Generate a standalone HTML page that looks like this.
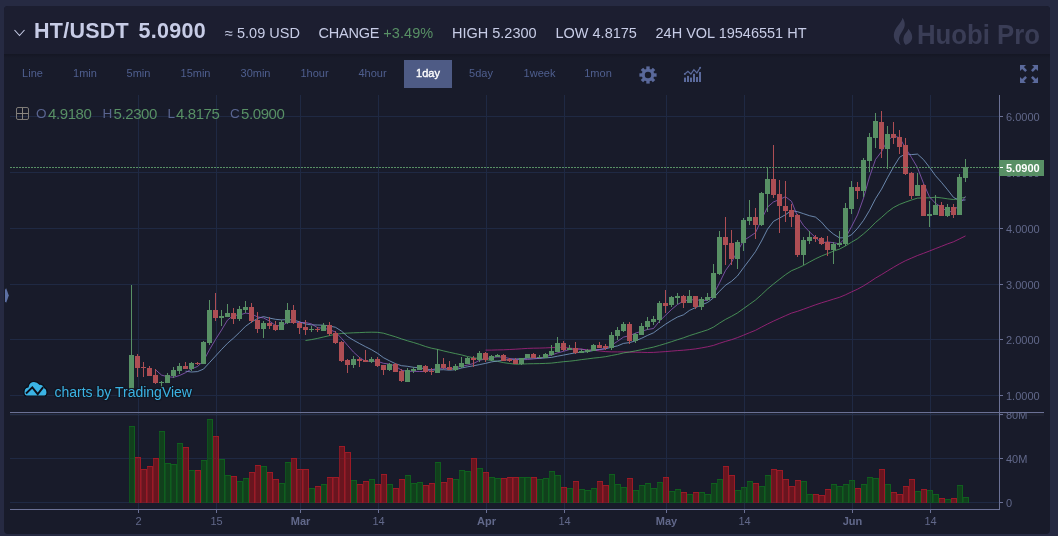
<!DOCTYPE html>
<html><head><meta charset="utf-8"><title>HT/USDT</title>
<style>
html,body{margin:0;padding:0;}
body{width:1058px;height:536px;background:#262a42;overflow:hidden;position:relative;font-family:"Liberation Sans",sans-serif;}
.panel{position:absolute;left:4px;top:6px;width:1046px;height:528px;background:#181b2a;border-radius:4px;}
.head{position:absolute;left:4px;top:6px;width:1046px;height:48px;background:#1c1e30;border-radius:4px 4px 0 0;}
.abs{position:absolute;white-space:nowrap;}
.h1{font-weight:bold;font-size:21.5px;color:#c7cce6;top:19px;line-height:24px;}
.h2{font-size:14.5px;color:#c7cce6;top:24px;line-height:18px;}
.tb{position:absolute;top:65px;width:60px;text-align:center;font-size:11px;color:#4f5f8f;line-height:16px;white-space:nowrap;}
.ax{position:absolute;font-size:11px;color:#61688a;line-height:14px;white-space:nowrap;}
.tx{width:61px;text-align:center;}
.lg{position:absolute;top:104.5px;font-size:15px;line-height:18px;white-space:nowrap;letter-spacing:-0.4px;}
svg{position:absolute;left:0;top:0;}
</style></head><body>
<div id="wrap" style="position:absolute;left:0;top:0;width:1058px;height:536px;will-change:transform;">
<div class="panel"></div>
<div class="head"></div>
<div class="abs" style="left:4px;top:54px;width:1046px;height:4px;background:linear-gradient(rgba(0,0,0,0.16),rgba(0,0,0,0));"></div>
<svg width="1058" height="536" viewBox="0 0 1058 536" shape-rendering="crispEdges">
<rect x="10" y="116" width="989" height="1" fill="#1f2943"/>
<rect x="10" y="172" width="989" height="1" fill="#1f2943"/>
<rect x="10" y="228" width="989" height="1" fill="#1f2943"/>
<rect x="10" y="284" width="989" height="1" fill="#1f2943"/>
<rect x="10" y="339" width="989" height="1" fill="#1f2943"/>
<rect x="10" y="395" width="989" height="1" fill="#1f2943"/>
<rect x="10" y="414" width="989" height="1" fill="#1f2943"/>
<rect x="10" y="458" width="989" height="1" fill="#1f2943"/>
<rect x="10" y="502" width="989" height="1" fill="#1f2943"/>
<rect x="138" y="95" width="1" height="317" fill="#1f2943"/>
<rect x="138" y="413" width="1" height="96" fill="#1f2943"/>
<rect x="216" y="95" width="1" height="317" fill="#1f2943"/>
<rect x="216" y="413" width="1" height="96" fill="#1f2943"/>
<rect x="300" y="95" width="1" height="317" fill="#1f2943"/>
<rect x="300" y="413" width="1" height="96" fill="#1f2943"/>
<rect x="378" y="95" width="1" height="317" fill="#1f2943"/>
<rect x="378" y="413" width="1" height="96" fill="#1f2943"/>
<rect x="486" y="95" width="1" height="317" fill="#1f2943"/>
<rect x="486" y="413" width="1" height="96" fill="#1f2943"/>
<rect x="564" y="95" width="1" height="317" fill="#1f2943"/>
<rect x="564" y="413" width="1" height="96" fill="#1f2943"/>
<rect x="666" y="95" width="1" height="317" fill="#1f2943"/>
<rect x="666" y="413" width="1" height="96" fill="#1f2943"/>
<rect x="744" y="95" width="1" height="317" fill="#1f2943"/>
<rect x="744" y="413" width="1" height="96" fill="#1f2943"/>
<rect x="852" y="95" width="1" height="317" fill="#1f2943"/>
<rect x="852" y="413" width="1" height="96" fill="#1f2943"/>
<rect x="930" y="95" width="1" height="317" fill="#1f2943"/>
<rect x="930" y="413" width="1" height="96" fill="#1f2943"/>
<rect x="129" y="426" width="6" height="77" fill="rgba(8,110,10,0.45)"/>
<rect x="129" y="426" width="1" height="77" fill="#10501f"/>
<rect x="134" y="426" width="1" height="77" fill="#0f5f1e"/>
<rect x="129" y="426" width="6" height="1" fill="#0f5f1e"/>
<rect x="135" y="457" width="6" height="46" fill="rgba(200,16,20,0.46)"/>
<rect x="135" y="457" width="1" height="46" fill="#801a26"/>
<rect x="140" y="457" width="1" height="46" fill="#9c1a26"/>
<rect x="135" y="457" width="6" height="1" fill="#9c1a26"/>
<rect x="141" y="469" width="6" height="34" fill="rgba(200,16,20,0.46)"/>
<rect x="141" y="469" width="1" height="34" fill="#801a26"/>
<rect x="146" y="469" width="1" height="34" fill="#9c1a26"/>
<rect x="141" y="469" width="6" height="1" fill="#9c1a26"/>
<rect x="147" y="466" width="6" height="37" fill="rgba(200,16,20,0.46)"/>
<rect x="147" y="466" width="1" height="37" fill="#801a26"/>
<rect x="152" y="466" width="1" height="37" fill="#9c1a26"/>
<rect x="147" y="466" width="6" height="1" fill="#9c1a26"/>
<rect x="153" y="458" width="6" height="45" fill="rgba(200,16,20,0.46)"/>
<rect x="153" y="458" width="1" height="45" fill="#801a26"/>
<rect x="158" y="458" width="1" height="45" fill="#9c1a26"/>
<rect x="153" y="458" width="6" height="1" fill="#9c1a26"/>
<rect x="159" y="431" width="6" height="72" fill="rgba(8,110,10,0.45)"/>
<rect x="159" y="431" width="1" height="72" fill="#10501f"/>
<rect x="164" y="431" width="1" height="72" fill="#0f5f1e"/>
<rect x="159" y="431" width="6" height="1" fill="#0f5f1e"/>
<rect x="165" y="463" width="6" height="40" fill="rgba(8,110,10,0.45)"/>
<rect x="165" y="463" width="1" height="40" fill="#10501f"/>
<rect x="170" y="463" width="1" height="40" fill="#0f5f1e"/>
<rect x="165" y="463" width="6" height="1" fill="#0f5f1e"/>
<rect x="171" y="464" width="6" height="39" fill="rgba(8,110,10,0.45)"/>
<rect x="171" y="464" width="1" height="39" fill="#10501f"/>
<rect x="176" y="464" width="1" height="39" fill="#0f5f1e"/>
<rect x="171" y="464" width="6" height="1" fill="#0f5f1e"/>
<rect x="177" y="443" width="6" height="60" fill="rgba(8,110,10,0.45)"/>
<rect x="177" y="443" width="1" height="60" fill="#10501f"/>
<rect x="182" y="443" width="1" height="60" fill="#0f5f1e"/>
<rect x="177" y="443" width="6" height="1" fill="#0f5f1e"/>
<rect x="183" y="447" width="6" height="56" fill="rgba(200,16,20,0.46)"/>
<rect x="183" y="447" width="1" height="56" fill="#801a26"/>
<rect x="188" y="447" width="1" height="56" fill="#9c1a26"/>
<rect x="183" y="447" width="6" height="1" fill="#9c1a26"/>
<rect x="189" y="470" width="6" height="33" fill="rgba(8,110,10,0.45)"/>
<rect x="189" y="470" width="1" height="33" fill="#10501f"/>
<rect x="194" y="470" width="1" height="33" fill="#0f5f1e"/>
<rect x="189" y="470" width="6" height="1" fill="#0f5f1e"/>
<rect x="195" y="470" width="6" height="33" fill="rgba(200,16,20,0.46)"/>
<rect x="195" y="470" width="1" height="33" fill="#801a26"/>
<rect x="200" y="470" width="1" height="33" fill="#9c1a26"/>
<rect x="195" y="470" width="6" height="1" fill="#9c1a26"/>
<rect x="201" y="460" width="6" height="43" fill="rgba(8,110,10,0.45)"/>
<rect x="201" y="460" width="1" height="43" fill="#10501f"/>
<rect x="206" y="460" width="1" height="43" fill="#0f5f1e"/>
<rect x="201" y="460" width="6" height="1" fill="#0f5f1e"/>
<rect x="207" y="419" width="6" height="84" fill="rgba(8,110,10,0.45)"/>
<rect x="207" y="419" width="1" height="84" fill="#10501f"/>
<rect x="212" y="419" width="1" height="84" fill="#0f5f1e"/>
<rect x="207" y="419" width="6" height="1" fill="#0f5f1e"/>
<rect x="213" y="436" width="6" height="67" fill="rgba(200,16,20,0.46)"/>
<rect x="213" y="436" width="1" height="67" fill="#801a26"/>
<rect x="218" y="436" width="1" height="67" fill="#9c1a26"/>
<rect x="213" y="436" width="6" height="1" fill="#9c1a26"/>
<rect x="219" y="459" width="6" height="44" fill="rgba(8,110,10,0.45)"/>
<rect x="219" y="459" width="1" height="44" fill="#10501f"/>
<rect x="224" y="459" width="1" height="44" fill="#0f5f1e"/>
<rect x="219" y="459" width="6" height="1" fill="#0f5f1e"/>
<rect x="225" y="475" width="6" height="28" fill="rgba(8,110,10,0.45)"/>
<rect x="225" y="475" width="1" height="28" fill="#10501f"/>
<rect x="230" y="475" width="1" height="28" fill="#0f5f1e"/>
<rect x="225" y="475" width="6" height="1" fill="#0f5f1e"/>
<rect x="231" y="476" width="6" height="27" fill="rgba(200,16,20,0.46)"/>
<rect x="231" y="476" width="1" height="27" fill="#801a26"/>
<rect x="236" y="476" width="1" height="27" fill="#9c1a26"/>
<rect x="231" y="476" width="6" height="1" fill="#9c1a26"/>
<rect x="237" y="481" width="6" height="22" fill="rgba(8,110,10,0.45)"/>
<rect x="237" y="481" width="1" height="22" fill="#10501f"/>
<rect x="242" y="481" width="1" height="22" fill="#0f5f1e"/>
<rect x="237" y="481" width="6" height="1" fill="#0f5f1e"/>
<rect x="243" y="478" width="6" height="25" fill="rgba(8,110,10,0.45)"/>
<rect x="243" y="478" width="1" height="25" fill="#10501f"/>
<rect x="248" y="478" width="1" height="25" fill="#0f5f1e"/>
<rect x="243" y="478" width="6" height="1" fill="#0f5f1e"/>
<rect x="249" y="472" width="6" height="31" fill="rgba(200,16,20,0.46)"/>
<rect x="249" y="472" width="1" height="31" fill="#801a26"/>
<rect x="254" y="472" width="1" height="31" fill="#9c1a26"/>
<rect x="249" y="472" width="6" height="1" fill="#9c1a26"/>
<rect x="255" y="465" width="6" height="38" fill="rgba(200,16,20,0.46)"/>
<rect x="255" y="465" width="1" height="38" fill="#801a26"/>
<rect x="260" y="465" width="1" height="38" fill="#9c1a26"/>
<rect x="255" y="465" width="6" height="1" fill="#9c1a26"/>
<rect x="261" y="466" width="6" height="37" fill="rgba(8,110,10,0.45)"/>
<rect x="261" y="466" width="1" height="37" fill="#10501f"/>
<rect x="266" y="466" width="1" height="37" fill="#0f5f1e"/>
<rect x="261" y="466" width="6" height="1" fill="#0f5f1e"/>
<rect x="267" y="472" width="6" height="31" fill="rgba(200,16,20,0.46)"/>
<rect x="267" y="472" width="1" height="31" fill="#801a26"/>
<rect x="272" y="472" width="1" height="31" fill="#9c1a26"/>
<rect x="267" y="472" width="6" height="1" fill="#9c1a26"/>
<rect x="273" y="479" width="6" height="24" fill="rgba(200,16,20,0.46)"/>
<rect x="273" y="479" width="1" height="24" fill="#801a26"/>
<rect x="278" y="479" width="1" height="24" fill="#9c1a26"/>
<rect x="273" y="479" width="6" height="1" fill="#9c1a26"/>
<rect x="279" y="483" width="6" height="20" fill="rgba(8,110,10,0.45)"/>
<rect x="279" y="483" width="1" height="20" fill="#10501f"/>
<rect x="284" y="483" width="1" height="20" fill="#0f5f1e"/>
<rect x="279" y="483" width="6" height="1" fill="#0f5f1e"/>
<rect x="285" y="462" width="6" height="41" fill="rgba(8,110,10,0.45)"/>
<rect x="285" y="462" width="1" height="41" fill="#10501f"/>
<rect x="290" y="462" width="1" height="41" fill="#0f5f1e"/>
<rect x="285" y="462" width="6" height="1" fill="#0f5f1e"/>
<rect x="291" y="458" width="6" height="45" fill="rgba(200,16,20,0.46)"/>
<rect x="291" y="458" width="1" height="45" fill="#801a26"/>
<rect x="296" y="458" width="1" height="45" fill="#9c1a26"/>
<rect x="291" y="458" width="6" height="1" fill="#9c1a26"/>
<rect x="297" y="469" width="6" height="34" fill="rgba(200,16,20,0.46)"/>
<rect x="297" y="469" width="1" height="34" fill="#801a26"/>
<rect x="302" y="469" width="1" height="34" fill="#9c1a26"/>
<rect x="297" y="469" width="6" height="1" fill="#9c1a26"/>
<rect x="303" y="469" width="6" height="34" fill="rgba(200,16,20,0.46)"/>
<rect x="303" y="469" width="1" height="34" fill="#801a26"/>
<rect x="308" y="469" width="1" height="34" fill="#9c1a26"/>
<rect x="303" y="469" width="6" height="1" fill="#9c1a26"/>
<rect x="309" y="488" width="6" height="15" fill="rgba(8,110,10,0.45)"/>
<rect x="309" y="488" width="1" height="15" fill="#10501f"/>
<rect x="314" y="488" width="1" height="15" fill="#0f5f1e"/>
<rect x="309" y="488" width="6" height="1" fill="#0f5f1e"/>
<rect x="315" y="486" width="6" height="17" fill="rgba(200,16,20,0.46)"/>
<rect x="315" y="486" width="1" height="17" fill="#801a26"/>
<rect x="320" y="486" width="1" height="17" fill="#9c1a26"/>
<rect x="315" y="486" width="6" height="1" fill="#9c1a26"/>
<rect x="321" y="484" width="6" height="19" fill="rgba(8,110,10,0.45)"/>
<rect x="321" y="484" width="1" height="19" fill="#10501f"/>
<rect x="326" y="484" width="1" height="19" fill="#0f5f1e"/>
<rect x="321" y="484" width="6" height="1" fill="#0f5f1e"/>
<rect x="327" y="477" width="6" height="26" fill="rgba(200,16,20,0.46)"/>
<rect x="327" y="477" width="1" height="26" fill="#801a26"/>
<rect x="332" y="477" width="1" height="26" fill="#9c1a26"/>
<rect x="327" y="477" width="6" height="1" fill="#9c1a26"/>
<rect x="333" y="477" width="6" height="26" fill="rgba(200,16,20,0.46)"/>
<rect x="333" y="477" width="1" height="26" fill="#801a26"/>
<rect x="338" y="477" width="1" height="26" fill="#9c1a26"/>
<rect x="333" y="477" width="6" height="1" fill="#9c1a26"/>
<rect x="339" y="446" width="6" height="57" fill="rgba(200,16,20,0.46)"/>
<rect x="339" y="446" width="1" height="57" fill="#801a26"/>
<rect x="344" y="446" width="1" height="57" fill="#9c1a26"/>
<rect x="339" y="446" width="6" height="1" fill="#9c1a26"/>
<rect x="345" y="452" width="6" height="51" fill="rgba(200,16,20,0.46)"/>
<rect x="345" y="452" width="1" height="51" fill="#801a26"/>
<rect x="350" y="452" width="1" height="51" fill="#9c1a26"/>
<rect x="345" y="452" width="6" height="1" fill="#9c1a26"/>
<rect x="351" y="480" width="6" height="23" fill="rgba(8,110,10,0.45)"/>
<rect x="351" y="480" width="1" height="23" fill="#10501f"/>
<rect x="356" y="480" width="1" height="23" fill="#0f5f1e"/>
<rect x="351" y="480" width="6" height="1" fill="#0f5f1e"/>
<rect x="357" y="484" width="6" height="19" fill="rgba(200,16,20,0.46)"/>
<rect x="357" y="484" width="1" height="19" fill="#801a26"/>
<rect x="362" y="484" width="1" height="19" fill="#9c1a26"/>
<rect x="357" y="484" width="6" height="1" fill="#9c1a26"/>
<rect x="363" y="481" width="6" height="22" fill="rgba(200,16,20,0.46)"/>
<rect x="363" y="481" width="1" height="22" fill="#801a26"/>
<rect x="368" y="481" width="1" height="22" fill="#9c1a26"/>
<rect x="363" y="481" width="6" height="1" fill="#9c1a26"/>
<rect x="369" y="479" width="6" height="24" fill="rgba(8,110,10,0.45)"/>
<rect x="369" y="479" width="1" height="24" fill="#10501f"/>
<rect x="374" y="479" width="1" height="24" fill="#0f5f1e"/>
<rect x="369" y="479" width="6" height="1" fill="#0f5f1e"/>
<rect x="375" y="484" width="6" height="19" fill="rgba(200,16,20,0.46)"/>
<rect x="375" y="484" width="1" height="19" fill="#801a26"/>
<rect x="380" y="484" width="1" height="19" fill="#9c1a26"/>
<rect x="375" y="484" width="6" height="1" fill="#9c1a26"/>
<rect x="381" y="474" width="6" height="29" fill="rgba(200,16,20,0.46)"/>
<rect x="381" y="474" width="1" height="29" fill="#801a26"/>
<rect x="386" y="474" width="1" height="29" fill="#9c1a26"/>
<rect x="381" y="474" width="6" height="1" fill="#9c1a26"/>
<rect x="387" y="484" width="6" height="19" fill="rgba(8,110,10,0.45)"/>
<rect x="387" y="484" width="1" height="19" fill="#10501f"/>
<rect x="392" y="484" width="1" height="19" fill="#0f5f1e"/>
<rect x="387" y="484" width="6" height="1" fill="#0f5f1e"/>
<rect x="393" y="488" width="6" height="15" fill="rgba(200,16,20,0.46)"/>
<rect x="393" y="488" width="1" height="15" fill="#801a26"/>
<rect x="398" y="488" width="1" height="15" fill="#9c1a26"/>
<rect x="393" y="488" width="6" height="1" fill="#9c1a26"/>
<rect x="399" y="479" width="6" height="24" fill="rgba(200,16,20,0.46)"/>
<rect x="399" y="479" width="1" height="24" fill="#801a26"/>
<rect x="404" y="479" width="1" height="24" fill="#9c1a26"/>
<rect x="399" y="479" width="6" height="1" fill="#9c1a26"/>
<rect x="405" y="475" width="6" height="28" fill="rgba(8,110,10,0.45)"/>
<rect x="405" y="475" width="1" height="28" fill="#10501f"/>
<rect x="410" y="475" width="1" height="28" fill="#0f5f1e"/>
<rect x="405" y="475" width="6" height="1" fill="#0f5f1e"/>
<rect x="411" y="483" width="6" height="20" fill="rgba(8,110,10,0.45)"/>
<rect x="411" y="483" width="1" height="20" fill="#10501f"/>
<rect x="416" y="483" width="1" height="20" fill="#0f5f1e"/>
<rect x="411" y="483" width="6" height="1" fill="#0f5f1e"/>
<rect x="417" y="482" width="6" height="21" fill="rgba(8,110,10,0.45)"/>
<rect x="417" y="482" width="1" height="21" fill="#10501f"/>
<rect x="422" y="482" width="1" height="21" fill="#0f5f1e"/>
<rect x="417" y="482" width="6" height="1" fill="#0f5f1e"/>
<rect x="423" y="485" width="6" height="18" fill="rgba(200,16,20,0.46)"/>
<rect x="423" y="485" width="1" height="18" fill="#801a26"/>
<rect x="428" y="485" width="1" height="18" fill="#9c1a26"/>
<rect x="423" y="485" width="6" height="1" fill="#9c1a26"/>
<rect x="429" y="483" width="6" height="20" fill="rgba(200,16,20,0.46)"/>
<rect x="429" y="483" width="1" height="20" fill="#801a26"/>
<rect x="434" y="483" width="1" height="20" fill="#9c1a26"/>
<rect x="429" y="483" width="6" height="1" fill="#9c1a26"/>
<rect x="435" y="462" width="6" height="41" fill="rgba(8,110,10,0.45)"/>
<rect x="435" y="462" width="1" height="41" fill="#10501f"/>
<rect x="440" y="462" width="1" height="41" fill="#0f5f1e"/>
<rect x="435" y="462" width="6" height="1" fill="#0f5f1e"/>
<rect x="441" y="482" width="6" height="21" fill="rgba(200,16,20,0.46)"/>
<rect x="441" y="482" width="1" height="21" fill="#801a26"/>
<rect x="446" y="482" width="1" height="21" fill="#9c1a26"/>
<rect x="441" y="482" width="6" height="1" fill="#9c1a26"/>
<rect x="447" y="478" width="6" height="25" fill="rgba(200,16,20,0.46)"/>
<rect x="447" y="478" width="1" height="25" fill="#801a26"/>
<rect x="452" y="478" width="1" height="25" fill="#9c1a26"/>
<rect x="447" y="478" width="6" height="1" fill="#9c1a26"/>
<rect x="453" y="479" width="6" height="24" fill="rgba(8,110,10,0.45)"/>
<rect x="453" y="479" width="1" height="24" fill="#10501f"/>
<rect x="458" y="479" width="1" height="24" fill="#0f5f1e"/>
<rect x="453" y="479" width="6" height="1" fill="#0f5f1e"/>
<rect x="459" y="470" width="6" height="33" fill="rgba(8,110,10,0.45)"/>
<rect x="459" y="470" width="1" height="33" fill="#10501f"/>
<rect x="464" y="470" width="1" height="33" fill="#0f5f1e"/>
<rect x="459" y="470" width="6" height="1" fill="#0f5f1e"/>
<rect x="465" y="471" width="6" height="32" fill="rgba(8,110,10,0.45)"/>
<rect x="465" y="471" width="1" height="32" fill="#10501f"/>
<rect x="470" y="471" width="1" height="32" fill="#0f5f1e"/>
<rect x="465" y="471" width="6" height="1" fill="#0f5f1e"/>
<rect x="471" y="458" width="6" height="45" fill="rgba(200,16,20,0.46)"/>
<rect x="471" y="458" width="1" height="45" fill="#801a26"/>
<rect x="476" y="458" width="1" height="45" fill="#9c1a26"/>
<rect x="471" y="458" width="6" height="1" fill="#9c1a26"/>
<rect x="477" y="468" width="6" height="35" fill="rgba(8,110,10,0.45)"/>
<rect x="477" y="468" width="1" height="35" fill="#10501f"/>
<rect x="482" y="468" width="1" height="35" fill="#0f5f1e"/>
<rect x="477" y="468" width="6" height="1" fill="#0f5f1e"/>
<rect x="483" y="472" width="6" height="31" fill="rgba(200,16,20,0.46)"/>
<rect x="483" y="472" width="1" height="31" fill="#801a26"/>
<rect x="488" y="472" width="1" height="31" fill="#9c1a26"/>
<rect x="483" y="472" width="6" height="1" fill="#9c1a26"/>
<rect x="489" y="477" width="6" height="26" fill="rgba(8,110,10,0.45)"/>
<rect x="489" y="477" width="1" height="26" fill="#10501f"/>
<rect x="494" y="477" width="1" height="26" fill="#0f5f1e"/>
<rect x="489" y="477" width="6" height="1" fill="#0f5f1e"/>
<rect x="495" y="478" width="6" height="25" fill="rgba(8,110,10,0.45)"/>
<rect x="495" y="478" width="1" height="25" fill="#10501f"/>
<rect x="500" y="478" width="1" height="25" fill="#0f5f1e"/>
<rect x="495" y="478" width="6" height="1" fill="#0f5f1e"/>
<rect x="501" y="478" width="6" height="25" fill="rgba(200,16,20,0.46)"/>
<rect x="501" y="478" width="1" height="25" fill="#801a26"/>
<rect x="506" y="478" width="1" height="25" fill="#9c1a26"/>
<rect x="501" y="478" width="6" height="1" fill="#9c1a26"/>
<rect x="507" y="477" width="6" height="26" fill="rgba(200,16,20,0.46)"/>
<rect x="507" y="477" width="1" height="26" fill="#801a26"/>
<rect x="512" y="477" width="1" height="26" fill="#9c1a26"/>
<rect x="507" y="477" width="6" height="1" fill="#9c1a26"/>
<rect x="513" y="477" width="6" height="26" fill="rgba(200,16,20,0.46)"/>
<rect x="513" y="477" width="1" height="26" fill="#801a26"/>
<rect x="518" y="477" width="1" height="26" fill="#9c1a26"/>
<rect x="513" y="477" width="6" height="1" fill="#9c1a26"/>
<rect x="519" y="477" width="6" height="26" fill="rgba(8,110,10,0.45)"/>
<rect x="519" y="477" width="1" height="26" fill="#10501f"/>
<rect x="524" y="477" width="1" height="26" fill="#0f5f1e"/>
<rect x="519" y="477" width="6" height="1" fill="#0f5f1e"/>
<rect x="525" y="477" width="6" height="26" fill="rgba(8,110,10,0.45)"/>
<rect x="525" y="477" width="1" height="26" fill="#10501f"/>
<rect x="530" y="477" width="1" height="26" fill="#0f5f1e"/>
<rect x="525" y="477" width="6" height="1" fill="#0f5f1e"/>
<rect x="531" y="477" width="6" height="26" fill="rgba(200,16,20,0.46)"/>
<rect x="531" y="477" width="1" height="26" fill="#801a26"/>
<rect x="536" y="477" width="1" height="26" fill="#9c1a26"/>
<rect x="531" y="477" width="6" height="1" fill="#9c1a26"/>
<rect x="537" y="479" width="6" height="24" fill="rgba(8,110,10,0.45)"/>
<rect x="537" y="479" width="1" height="24" fill="#10501f"/>
<rect x="542" y="479" width="1" height="24" fill="#0f5f1e"/>
<rect x="537" y="479" width="6" height="1" fill="#0f5f1e"/>
<rect x="543" y="478" width="6" height="25" fill="rgba(8,110,10,0.45)"/>
<rect x="543" y="478" width="1" height="25" fill="#10501f"/>
<rect x="548" y="478" width="1" height="25" fill="#0f5f1e"/>
<rect x="543" y="478" width="6" height="1" fill="#0f5f1e"/>
<rect x="549" y="471" width="6" height="32" fill="rgba(8,110,10,0.45)"/>
<rect x="549" y="471" width="1" height="32" fill="#10501f"/>
<rect x="554" y="471" width="1" height="32" fill="#0f5f1e"/>
<rect x="549" y="471" width="6" height="1" fill="#0f5f1e"/>
<rect x="555" y="475" width="6" height="28" fill="rgba(8,110,10,0.45)"/>
<rect x="555" y="475" width="1" height="28" fill="#10501f"/>
<rect x="560" y="475" width="1" height="28" fill="#0f5f1e"/>
<rect x="555" y="475" width="6" height="1" fill="#0f5f1e"/>
<rect x="561" y="487" width="6" height="16" fill="rgba(200,16,20,0.46)"/>
<rect x="561" y="487" width="1" height="16" fill="#801a26"/>
<rect x="566" y="487" width="1" height="16" fill="#9c1a26"/>
<rect x="561" y="487" width="6" height="1" fill="#9c1a26"/>
<rect x="567" y="488" width="6" height="15" fill="rgba(8,110,10,0.45)"/>
<rect x="567" y="488" width="1" height="15" fill="#10501f"/>
<rect x="572" y="488" width="1" height="15" fill="#0f5f1e"/>
<rect x="567" y="488" width="6" height="1" fill="#0f5f1e"/>
<rect x="573" y="481" width="6" height="22" fill="rgba(200,16,20,0.46)"/>
<rect x="573" y="481" width="1" height="22" fill="#801a26"/>
<rect x="578" y="481" width="1" height="22" fill="#9c1a26"/>
<rect x="573" y="481" width="6" height="1" fill="#9c1a26"/>
<rect x="579" y="489" width="6" height="14" fill="rgba(8,110,10,0.45)"/>
<rect x="579" y="489" width="1" height="14" fill="#10501f"/>
<rect x="584" y="489" width="1" height="14" fill="#0f5f1e"/>
<rect x="579" y="489" width="6" height="1" fill="#0f5f1e"/>
<rect x="585" y="490" width="6" height="13" fill="rgba(8,110,10,0.45)"/>
<rect x="585" y="490" width="1" height="13" fill="#10501f"/>
<rect x="590" y="490" width="1" height="13" fill="#0f5f1e"/>
<rect x="585" y="490" width="6" height="1" fill="#0f5f1e"/>
<rect x="591" y="488" width="6" height="15" fill="rgba(8,110,10,0.45)"/>
<rect x="591" y="488" width="1" height="15" fill="#10501f"/>
<rect x="596" y="488" width="1" height="15" fill="#0f5f1e"/>
<rect x="591" y="488" width="6" height="1" fill="#0f5f1e"/>
<rect x="597" y="481" width="6" height="22" fill="rgba(200,16,20,0.46)"/>
<rect x="597" y="481" width="1" height="22" fill="#801a26"/>
<rect x="602" y="481" width="1" height="22" fill="#9c1a26"/>
<rect x="597" y="481" width="6" height="1" fill="#9c1a26"/>
<rect x="603" y="485" width="6" height="18" fill="rgba(200,16,20,0.46)"/>
<rect x="603" y="485" width="1" height="18" fill="#801a26"/>
<rect x="608" y="485" width="1" height="18" fill="#9c1a26"/>
<rect x="603" y="485" width="6" height="1" fill="#9c1a26"/>
<rect x="609" y="474" width="6" height="29" fill="rgba(8,110,10,0.45)"/>
<rect x="609" y="474" width="1" height="29" fill="#10501f"/>
<rect x="614" y="474" width="1" height="29" fill="#0f5f1e"/>
<rect x="609" y="474" width="6" height="1" fill="#0f5f1e"/>
<rect x="615" y="484" width="6" height="19" fill="rgba(8,110,10,0.45)"/>
<rect x="615" y="484" width="1" height="19" fill="#10501f"/>
<rect x="620" y="484" width="1" height="19" fill="#0f5f1e"/>
<rect x="615" y="484" width="6" height="1" fill="#0f5f1e"/>
<rect x="621" y="487" width="6" height="16" fill="rgba(8,110,10,0.45)"/>
<rect x="621" y="487" width="1" height="16" fill="#10501f"/>
<rect x="626" y="487" width="1" height="16" fill="#0f5f1e"/>
<rect x="621" y="487" width="6" height="1" fill="#0f5f1e"/>
<rect x="627" y="478" width="6" height="25" fill="rgba(200,16,20,0.46)"/>
<rect x="627" y="478" width="1" height="25" fill="#801a26"/>
<rect x="632" y="478" width="1" height="25" fill="#9c1a26"/>
<rect x="627" y="478" width="6" height="1" fill="#9c1a26"/>
<rect x="633" y="490" width="6" height="13" fill="rgba(8,110,10,0.45)"/>
<rect x="633" y="490" width="1" height="13" fill="#10501f"/>
<rect x="638" y="490" width="1" height="13" fill="#0f5f1e"/>
<rect x="633" y="490" width="6" height="1" fill="#0f5f1e"/>
<rect x="639" y="485" width="6" height="18" fill="rgba(8,110,10,0.45)"/>
<rect x="639" y="485" width="1" height="18" fill="#10501f"/>
<rect x="644" y="485" width="1" height="18" fill="#0f5f1e"/>
<rect x="639" y="485" width="6" height="1" fill="#0f5f1e"/>
<rect x="645" y="483" width="6" height="20" fill="rgba(8,110,10,0.45)"/>
<rect x="645" y="483" width="1" height="20" fill="#10501f"/>
<rect x="650" y="483" width="1" height="20" fill="#0f5f1e"/>
<rect x="645" y="483" width="6" height="1" fill="#0f5f1e"/>
<rect x="651" y="488" width="6" height="15" fill="rgba(8,110,10,0.45)"/>
<rect x="651" y="488" width="1" height="15" fill="#10501f"/>
<rect x="656" y="488" width="1" height="15" fill="#0f5f1e"/>
<rect x="651" y="488" width="6" height="1" fill="#0f5f1e"/>
<rect x="657" y="482" width="6" height="21" fill="rgba(8,110,10,0.45)"/>
<rect x="657" y="482" width="1" height="21" fill="#10501f"/>
<rect x="662" y="482" width="1" height="21" fill="#0f5f1e"/>
<rect x="657" y="482" width="6" height="1" fill="#0f5f1e"/>
<rect x="663" y="477" width="6" height="26" fill="rgba(200,16,20,0.46)"/>
<rect x="663" y="477" width="1" height="26" fill="#801a26"/>
<rect x="668" y="477" width="1" height="26" fill="#9c1a26"/>
<rect x="663" y="477" width="6" height="1" fill="#9c1a26"/>
<rect x="669" y="491" width="6" height="12" fill="rgba(8,110,10,0.45)"/>
<rect x="669" y="491" width="1" height="12" fill="#10501f"/>
<rect x="674" y="491" width="1" height="12" fill="#0f5f1e"/>
<rect x="669" y="491" width="6" height="1" fill="#0f5f1e"/>
<rect x="675" y="489" width="6" height="14" fill="rgba(8,110,10,0.45)"/>
<rect x="675" y="489" width="1" height="14" fill="#10501f"/>
<rect x="680" y="489" width="1" height="14" fill="#0f5f1e"/>
<rect x="675" y="489" width="6" height="1" fill="#0f5f1e"/>
<rect x="681" y="492" width="6" height="11" fill="rgba(200,16,20,0.46)"/>
<rect x="681" y="492" width="1" height="11" fill="#801a26"/>
<rect x="686" y="492" width="1" height="11" fill="#9c1a26"/>
<rect x="681" y="492" width="6" height="1" fill="#9c1a26"/>
<rect x="687" y="494" width="6" height="9" fill="rgba(8,110,10,0.45)"/>
<rect x="687" y="494" width="1" height="9" fill="#10501f"/>
<rect x="692" y="494" width="1" height="9" fill="#0f5f1e"/>
<rect x="687" y="494" width="6" height="1" fill="#0f5f1e"/>
<rect x="693" y="492" width="6" height="11" fill="rgba(200,16,20,0.46)"/>
<rect x="693" y="492" width="1" height="11" fill="#801a26"/>
<rect x="698" y="492" width="1" height="11" fill="#9c1a26"/>
<rect x="693" y="492" width="6" height="1" fill="#9c1a26"/>
<rect x="699" y="492" width="6" height="11" fill="rgba(8,110,10,0.45)"/>
<rect x="699" y="492" width="1" height="11" fill="#10501f"/>
<rect x="704" y="492" width="1" height="11" fill="#0f5f1e"/>
<rect x="699" y="492" width="6" height="1" fill="#0f5f1e"/>
<rect x="705" y="494" width="6" height="9" fill="rgba(8,110,10,0.45)"/>
<rect x="705" y="494" width="1" height="9" fill="#10501f"/>
<rect x="710" y="494" width="1" height="9" fill="#0f5f1e"/>
<rect x="705" y="494" width="6" height="1" fill="#0f5f1e"/>
<rect x="711" y="483" width="6" height="20" fill="rgba(8,110,10,0.45)"/>
<rect x="711" y="483" width="1" height="20" fill="#10501f"/>
<rect x="716" y="483" width="1" height="20" fill="#0f5f1e"/>
<rect x="711" y="483" width="6" height="1" fill="#0f5f1e"/>
<rect x="717" y="479" width="6" height="24" fill="rgba(8,110,10,0.45)"/>
<rect x="717" y="479" width="1" height="24" fill="#10501f"/>
<rect x="722" y="479" width="1" height="24" fill="#0f5f1e"/>
<rect x="717" y="479" width="6" height="1" fill="#0f5f1e"/>
<rect x="723" y="466" width="6" height="37" fill="rgba(200,16,20,0.46)"/>
<rect x="723" y="466" width="1" height="37" fill="#801a26"/>
<rect x="728" y="466" width="1" height="37" fill="#9c1a26"/>
<rect x="723" y="466" width="6" height="1" fill="#9c1a26"/>
<rect x="729" y="475" width="6" height="28" fill="rgba(200,16,20,0.46)"/>
<rect x="729" y="475" width="1" height="28" fill="#801a26"/>
<rect x="734" y="475" width="1" height="28" fill="#9c1a26"/>
<rect x="729" y="475" width="6" height="1" fill="#9c1a26"/>
<rect x="735" y="490" width="6" height="13" fill="rgba(8,110,10,0.45)"/>
<rect x="735" y="490" width="1" height="13" fill="#10501f"/>
<rect x="740" y="490" width="1" height="13" fill="#0f5f1e"/>
<rect x="735" y="490" width="6" height="1" fill="#0f5f1e"/>
<rect x="741" y="487" width="6" height="16" fill="rgba(8,110,10,0.45)"/>
<rect x="741" y="487" width="1" height="16" fill="#10501f"/>
<rect x="746" y="487" width="1" height="16" fill="#0f5f1e"/>
<rect x="741" y="487" width="6" height="1" fill="#0f5f1e"/>
<rect x="747" y="481" width="6" height="22" fill="rgba(8,110,10,0.45)"/>
<rect x="747" y="481" width="1" height="22" fill="#10501f"/>
<rect x="752" y="481" width="1" height="22" fill="#0f5f1e"/>
<rect x="747" y="481" width="6" height="1" fill="#0f5f1e"/>
<rect x="753" y="483" width="6" height="20" fill="rgba(200,16,20,0.46)"/>
<rect x="753" y="483" width="1" height="20" fill="#801a26"/>
<rect x="758" y="483" width="1" height="20" fill="#9c1a26"/>
<rect x="753" y="483" width="6" height="1" fill="#9c1a26"/>
<rect x="759" y="486" width="6" height="17" fill="rgba(8,110,10,0.45)"/>
<rect x="759" y="486" width="1" height="17" fill="#10501f"/>
<rect x="764" y="486" width="1" height="17" fill="#0f5f1e"/>
<rect x="759" y="486" width="6" height="1" fill="#0f5f1e"/>
<rect x="765" y="475" width="6" height="28" fill="rgba(8,110,10,0.45)"/>
<rect x="765" y="475" width="1" height="28" fill="#10501f"/>
<rect x="770" y="475" width="1" height="28" fill="#0f5f1e"/>
<rect x="765" y="475" width="6" height="1" fill="#0f5f1e"/>
<rect x="771" y="469" width="6" height="34" fill="rgba(200,16,20,0.46)"/>
<rect x="771" y="469" width="1" height="34" fill="#801a26"/>
<rect x="776" y="469" width="1" height="34" fill="#9c1a26"/>
<rect x="771" y="469" width="6" height="1" fill="#9c1a26"/>
<rect x="777" y="470" width="6" height="33" fill="rgba(200,16,20,0.46)"/>
<rect x="777" y="470" width="1" height="33" fill="#801a26"/>
<rect x="782" y="470" width="1" height="33" fill="#9c1a26"/>
<rect x="777" y="470" width="6" height="1" fill="#9c1a26"/>
<rect x="783" y="479" width="6" height="24" fill="rgba(200,16,20,0.46)"/>
<rect x="783" y="479" width="1" height="24" fill="#801a26"/>
<rect x="788" y="479" width="1" height="24" fill="#9c1a26"/>
<rect x="783" y="479" width="6" height="1" fill="#9c1a26"/>
<rect x="789" y="486" width="6" height="17" fill="rgba(200,16,20,0.46)"/>
<rect x="789" y="486" width="1" height="17" fill="#801a26"/>
<rect x="794" y="486" width="1" height="17" fill="#9c1a26"/>
<rect x="789" y="486" width="6" height="1" fill="#9c1a26"/>
<rect x="795" y="480" width="6" height="23" fill="rgba(200,16,20,0.46)"/>
<rect x="795" y="480" width="1" height="23" fill="#801a26"/>
<rect x="800" y="480" width="1" height="23" fill="#9c1a26"/>
<rect x="795" y="480" width="6" height="1" fill="#9c1a26"/>
<rect x="801" y="481" width="6" height="22" fill="rgba(8,110,10,0.45)"/>
<rect x="801" y="481" width="1" height="22" fill="#10501f"/>
<rect x="806" y="481" width="1" height="22" fill="#0f5f1e"/>
<rect x="801" y="481" width="6" height="1" fill="#0f5f1e"/>
<rect x="807" y="494" width="6" height="9" fill="rgba(8,110,10,0.45)"/>
<rect x="807" y="494" width="1" height="9" fill="#10501f"/>
<rect x="812" y="494" width="1" height="9" fill="#0f5f1e"/>
<rect x="807" y="494" width="6" height="1" fill="#0f5f1e"/>
<rect x="813" y="494" width="6" height="9" fill="rgba(200,16,20,0.46)"/>
<rect x="813" y="494" width="1" height="9" fill="#801a26"/>
<rect x="818" y="494" width="1" height="9" fill="#9c1a26"/>
<rect x="813" y="494" width="6" height="1" fill="#9c1a26"/>
<rect x="819" y="495" width="6" height="8" fill="rgba(200,16,20,0.46)"/>
<rect x="819" y="495" width="1" height="8" fill="#801a26"/>
<rect x="824" y="495" width="1" height="8" fill="#9c1a26"/>
<rect x="819" y="495" width="6" height="1" fill="#9c1a26"/>
<rect x="825" y="489" width="6" height="14" fill="rgba(200,16,20,0.46)"/>
<rect x="825" y="489" width="1" height="14" fill="#801a26"/>
<rect x="830" y="489" width="1" height="14" fill="#9c1a26"/>
<rect x="825" y="489" width="6" height="1" fill="#9c1a26"/>
<rect x="831" y="484" width="6" height="19" fill="rgba(8,110,10,0.45)"/>
<rect x="831" y="484" width="1" height="19" fill="#10501f"/>
<rect x="836" y="484" width="1" height="19" fill="#0f5f1e"/>
<rect x="831" y="484" width="6" height="1" fill="#0f5f1e"/>
<rect x="837" y="486" width="6" height="17" fill="rgba(8,110,10,0.45)"/>
<rect x="837" y="486" width="1" height="17" fill="#10501f"/>
<rect x="842" y="486" width="1" height="17" fill="#0f5f1e"/>
<rect x="837" y="486" width="6" height="1" fill="#0f5f1e"/>
<rect x="843" y="484" width="6" height="19" fill="rgba(8,110,10,0.45)"/>
<rect x="843" y="484" width="1" height="19" fill="#10501f"/>
<rect x="848" y="484" width="1" height="19" fill="#0f5f1e"/>
<rect x="843" y="484" width="6" height="1" fill="#0f5f1e"/>
<rect x="849" y="480" width="6" height="23" fill="rgba(8,110,10,0.45)"/>
<rect x="849" y="480" width="1" height="23" fill="#10501f"/>
<rect x="854" y="480" width="1" height="23" fill="#0f5f1e"/>
<rect x="849" y="480" width="6" height="1" fill="#0f5f1e"/>
<rect x="855" y="488" width="6" height="15" fill="rgba(200,16,20,0.46)"/>
<rect x="855" y="488" width="1" height="15" fill="#801a26"/>
<rect x="860" y="488" width="1" height="15" fill="#9c1a26"/>
<rect x="855" y="488" width="6" height="1" fill="#9c1a26"/>
<rect x="861" y="484" width="6" height="19" fill="rgba(8,110,10,0.45)"/>
<rect x="861" y="484" width="1" height="19" fill="#10501f"/>
<rect x="866" y="484" width="1" height="19" fill="#0f5f1e"/>
<rect x="861" y="484" width="6" height="1" fill="#0f5f1e"/>
<rect x="867" y="477" width="6" height="26" fill="rgba(8,110,10,0.45)"/>
<rect x="867" y="477" width="1" height="26" fill="#10501f"/>
<rect x="872" y="477" width="1" height="26" fill="#0f5f1e"/>
<rect x="867" y="477" width="6" height="1" fill="#0f5f1e"/>
<rect x="873" y="478" width="6" height="25" fill="rgba(8,110,10,0.45)"/>
<rect x="873" y="478" width="1" height="25" fill="#10501f"/>
<rect x="878" y="478" width="1" height="25" fill="#0f5f1e"/>
<rect x="873" y="478" width="6" height="1" fill="#0f5f1e"/>
<rect x="879" y="469" width="6" height="34" fill="rgba(200,16,20,0.46)"/>
<rect x="879" y="469" width="1" height="34" fill="#801a26"/>
<rect x="884" y="469" width="1" height="34" fill="#9c1a26"/>
<rect x="879" y="469" width="6" height="1" fill="#9c1a26"/>
<rect x="885" y="484" width="6" height="19" fill="rgba(8,110,10,0.45)"/>
<rect x="885" y="484" width="1" height="19" fill="#10501f"/>
<rect x="890" y="484" width="1" height="19" fill="#0f5f1e"/>
<rect x="885" y="484" width="6" height="1" fill="#0f5f1e"/>
<rect x="891" y="492" width="6" height="11" fill="rgba(200,16,20,0.46)"/>
<rect x="891" y="492" width="1" height="11" fill="#801a26"/>
<rect x="896" y="492" width="1" height="11" fill="#9c1a26"/>
<rect x="891" y="492" width="6" height="1" fill="#9c1a26"/>
<rect x="897" y="494" width="6" height="9" fill="rgba(200,16,20,0.46)"/>
<rect x="897" y="494" width="1" height="9" fill="#801a26"/>
<rect x="902" y="494" width="1" height="9" fill="#9c1a26"/>
<rect x="897" y="494" width="6" height="1" fill="#9c1a26"/>
<rect x="903" y="486" width="6" height="17" fill="rgba(200,16,20,0.46)"/>
<rect x="903" y="486" width="1" height="17" fill="#801a26"/>
<rect x="908" y="486" width="1" height="17" fill="#9c1a26"/>
<rect x="903" y="486" width="6" height="1" fill="#9c1a26"/>
<rect x="909" y="479" width="6" height="24" fill="rgba(200,16,20,0.46)"/>
<rect x="909" y="479" width="1" height="24" fill="#801a26"/>
<rect x="914" y="479" width="1" height="24" fill="#9c1a26"/>
<rect x="909" y="479" width="6" height="1" fill="#9c1a26"/>
<rect x="915" y="491" width="6" height="12" fill="rgba(8,110,10,0.45)"/>
<rect x="915" y="491" width="1" height="12" fill="#10501f"/>
<rect x="920" y="491" width="1" height="12" fill="#0f5f1e"/>
<rect x="915" y="491" width="6" height="1" fill="#0f5f1e"/>
<rect x="921" y="489" width="6" height="14" fill="rgba(200,16,20,0.46)"/>
<rect x="921" y="489" width="1" height="14" fill="#801a26"/>
<rect x="926" y="489" width="1" height="14" fill="#9c1a26"/>
<rect x="921" y="489" width="6" height="1" fill="#9c1a26"/>
<rect x="927" y="490" width="6" height="13" fill="rgba(8,110,10,0.45)"/>
<rect x="927" y="490" width="1" height="13" fill="#10501f"/>
<rect x="932" y="490" width="1" height="13" fill="#0f5f1e"/>
<rect x="927" y="490" width="6" height="1" fill="#0f5f1e"/>
<rect x="933" y="494" width="6" height="9" fill="rgba(8,110,10,0.45)"/>
<rect x="933" y="494" width="1" height="9" fill="#10501f"/>
<rect x="938" y="494" width="1" height="9" fill="#0f5f1e"/>
<rect x="933" y="494" width="6" height="1" fill="#0f5f1e"/>
<rect x="939" y="498" width="6" height="5" fill="rgba(200,16,20,0.46)"/>
<rect x="939" y="498" width="1" height="5" fill="#801a26"/>
<rect x="944" y="498" width="1" height="5" fill="#9c1a26"/>
<rect x="939" y="498" width="6" height="1" fill="#9c1a26"/>
<rect x="945" y="499" width="6" height="4" fill="rgba(8,110,10,0.45)"/>
<rect x="945" y="499" width="1" height="4" fill="#10501f"/>
<rect x="950" y="499" width="1" height="4" fill="#0f5f1e"/>
<rect x="945" y="499" width="6" height="1" fill="#0f5f1e"/>
<rect x="951" y="498" width="6" height="5" fill="rgba(200,16,20,0.46)"/>
<rect x="951" y="498" width="1" height="5" fill="#801a26"/>
<rect x="956" y="498" width="1" height="5" fill="#9c1a26"/>
<rect x="951" y="498" width="6" height="1" fill="#9c1a26"/>
<rect x="957" y="485" width="6" height="18" fill="rgba(8,110,10,0.45)"/>
<rect x="957" y="485" width="1" height="18" fill="#10501f"/>
<rect x="962" y="485" width="1" height="18" fill="#0f5f1e"/>
<rect x="957" y="485" width="6" height="1" fill="#0f5f1e"/>
<rect x="963" y="497" width="6" height="6" fill="rgba(8,110,10,0.45)"/>
<rect x="963" y="497" width="1" height="6" fill="#10501f"/>
<rect x="968" y="497" width="1" height="6" fill="#0f5f1e"/>
<rect x="963" y="497" width="6" height="1" fill="#0f5f1e"/>
<polyline points="485.5,350.1 491.5,350.1 497.5,349.9 503.5,349.8 509.5,349.5 515.5,349.2 521.5,348.8 527.5,348.4 533.5,348.2 539.5,348.1 545.5,347.9 551.5,347.6 557.5,347.3 563.5,347.4 569.5,348.1 575.5,348.6 581.5,349.2 587.5,349.9 593.5,350.3 599.5,350.9 605.5,351.6 611.5,351.9 617.5,351.9 623.5,351.9 629.5,352.1 635.5,352.2 641.5,352.3 647.5,352.5 653.5,352.4 659.5,352.0 665.5,351.6 671.5,351.1 677.5,350.6 683.5,350.2 689.5,349.6 695.5,348.9 701.5,347.9 707.5,346.8 713.5,345.4 719.5,343.3 725.5,341.4 731.5,339.7 737.5,337.6 743.5,335.2 749.5,332.7 755.5,330.3 761.5,327.1 767.5,324.0 773.5,321.1 779.5,318.4 785.5,315.7 791.5,313.1 797.5,311.3 803.5,309.2 809.5,307.0 815.5,304.8 821.5,302.8 827.5,301.0 833.5,299.1 839.5,297.3 845.5,294.8 851.5,291.9 857.5,289.2 863.5,285.9 869.5,282.1 875.5,278.1 881.5,274.6 887.5,270.9 893.5,267.3 899.5,263.8 905.5,260.7 911.5,258.1 917.5,255.5 923.5,253.3 929.5,251.0 935.5,248.6 941.5,246.3 947.5,243.9 953.5,241.8 959.5,238.9 965.5,235.9" fill="none" stroke="#b7248a" stroke-width="1" stroke-linejoin="round" stroke-opacity="0.75" shape-rendering="geometricPrecision"/>
<polyline points="305.5,340.5 311.5,339.6 317.5,338.4 323.5,337.0 329.5,335.6 335.5,334.2 341.5,333.5 347.5,333.1 353.5,332.8 359.5,332.6 365.5,332.3 371.5,332.2 377.5,332.3 383.5,333.2 389.5,335.0 395.5,336.8 401.5,338.9 407.5,340.8 413.5,342.5 419.5,344.4 425.5,346.5 431.5,348.2 437.5,349.4 443.5,350.9 449.5,352.3 455.5,353.6 461.5,354.9 467.5,356.5 473.5,357.8 479.5,358.6 485.5,359.6 491.5,360.5 497.5,361.4 503.5,362.6 509.5,363.5 515.5,364.2 521.5,364.1 527.5,363.8 533.5,363.7 539.5,363.6 545.5,363.4 551.5,363.1 557.5,362.4 563.5,361.7 569.5,361.2 575.5,360.5 581.5,359.6 587.5,358.9 593.5,358.1 599.5,357.5 605.5,356.7 611.5,355.5 617.5,354.4 623.5,352.9 629.5,352.0 635.5,350.9 641.5,349.7 647.5,348.4 653.5,347.1 659.5,345.4 665.5,343.6 671.5,341.7 677.5,339.7 683.5,337.8 689.5,335.6 695.5,333.7 701.5,331.8 707.5,329.9 713.5,327.1 719.5,323.1 725.5,319.4 731.5,316.3 737.5,312.9 743.5,308.6 749.5,304.3 755.5,300.0 761.5,294.7 767.5,289.0 773.5,284.0 779.5,279.3 785.5,274.7 791.5,270.7 797.5,268.2 803.5,265.4 809.5,262.0 815.5,258.8 821.5,256.0 827.5,253.6 833.5,251.1 839.5,249.1 845.5,245.9 851.5,242.2 857.5,238.7 863.5,233.9 869.5,228.6 875.5,222.5 881.5,217.4 887.5,212.0 893.5,207.5 899.5,204.4 905.5,202.1 911.5,200.0 917.5,198.1 923.5,197.9 929.5,197.8 935.5,197.2 941.5,197.9 947.5,198.8 953.5,199.5 959.5,198.6 965.5,197.1" fill="none" stroke="#55b263" stroke-width="1" stroke-linejoin="round" stroke-opacity="0.75" shape-rendering="geometricPrecision"/>
<polyline points="185.5,371.2 191.5,372.0 197.5,371.6 203.5,369.1 209.5,362.6 215.5,356.1 221.5,349.5 227.5,343.3 233.5,338.1 239.5,332.4 245.5,326.3 251.5,322.0 257.5,318.5 263.5,316.6 269.5,318.1 275.5,319.3 281.5,319.9 287.5,319.6 293.5,320.0 299.5,321.8 305.5,324.0 311.5,324.9 317.5,325.0 323.5,325.2 329.5,326.0 335.5,327.3 341.5,331.1 347.5,336.5 353.5,340.2 359.5,343.5 365.5,346.7 371.5,349.7 377.5,353.3 383.5,357.7 389.5,360.8 395.5,363.7 401.5,365.7 407.5,366.3 413.5,367.3 419.5,367.8 425.5,368.8 431.5,370.0 437.5,369.9 443.5,369.7 449.5,370.2 455.5,369.7 461.5,368.0 467.5,366.8 473.5,365.8 479.5,364.6 485.5,363.4 491.5,361.9 497.5,361.0 503.5,360.3 509.5,359.4 515.5,359.1 521.5,358.6 527.5,358.2 533.5,358.0 539.5,358.4 545.5,357.9 551.5,357.4 557.5,356.2 563.5,355.1 569.5,353.9 575.5,352.8 581.5,352.1 587.5,351.7 593.5,350.5 599.5,349.5 605.5,348.8 611.5,347.2 617.5,345.9 623.5,343.4 629.5,342.6 635.5,340.8 641.5,338.3 647.5,335.4 653.5,332.8 659.5,328.4 665.5,324.2 671.5,320.4 677.5,317.0 683.5,314.8 689.5,310.4 695.5,307.6 701.5,304.9 707.5,302.5 713.5,297.9 719.5,291.3 725.5,285.2 731.5,281.3 737.5,275.9 743.5,267.7 749.5,259.8 755.5,251.6 761.5,241.0 767.5,229.2 773.5,221.3 779.5,218.1 785.5,214.7 791.5,210.5 797.5,211.7 803.5,213.7 809.5,215.7 815.5,217.1 821.5,222.1 827.5,229.1 833.5,234.1 839.5,237.9 845.5,237.7 851.5,234.8 857.5,228.4 863.5,220.4 869.5,210.4 875.5,198.7 881.5,189.2 887.5,177.7 893.5,167.0 899.5,157.3 905.5,153.8 911.5,154.6 917.5,154.1 923.5,159.6 929.5,167.3 935.5,175.7 941.5,182.4 947.5,189.7 953.5,197.4 959.5,200.5 965.5,199.9" fill="none" stroke="#84aad5" stroke-width="1" stroke-linejoin="round" stroke-opacity="0.75" shape-rendering="geometricPrecision"/>
<polyline points="155.5,369.7 161.5,375.1 167.5,376.7 173.5,377.3 179.5,375.5 185.5,372.7 191.5,368.9 197.5,366.5 203.5,360.9 209.5,349.7 215.5,339.5 221.5,330.1 227.5,320.1 233.5,315.3 239.5,315.1 245.5,313.1 251.5,313.9 257.5,316.9 263.5,317.9 269.5,321.1 275.5,325.5 281.5,325.9 287.5,322.3 293.5,322.1 299.5,322.5 305.5,322.5 311.5,323.9 317.5,327.7 323.5,328.3 329.5,329.5 335.5,332.1 341.5,338.3 347.5,345.3 353.5,352.1 359.5,357.5 365.5,361.3 371.5,361.1 377.5,361.3 383.5,363.3 389.5,364.1 395.5,366.1 401.5,370.3 407.5,371.3 413.5,371.3 419.5,371.5 425.5,371.5 431.5,369.7 437.5,368.5 443.5,368.1 449.5,368.9 455.5,367.9 461.5,366.3 467.5,365.1 473.5,363.5 479.5,360.3 485.5,358.9 491.5,357.5 497.5,356.9 503.5,357.1 509.5,358.5 515.5,359.3 521.5,359.7 527.5,359.5 533.5,358.9 539.5,358.3 545.5,356.5 551.5,355.1 557.5,352.9 563.5,351.3 569.5,349.5 575.5,349.1 581.5,349.1 587.5,350.5 593.5,349.7 599.5,349.5 605.5,348.5 611.5,345.3 617.5,341.3 623.5,337.1 629.5,335.7 635.5,333.1 641.5,331.3 647.5,329.5 653.5,328.5 659.5,321.1 665.5,315.3 671.5,309.5 677.5,304.5 683.5,301.1 689.5,299.7 695.5,299.9 701.5,300.3 707.5,300.5 713.5,294.7 719.5,282.9 725.5,270.5 731.5,262.3 737.5,251.3 743.5,240.7 749.5,236.7 755.5,232.7 761.5,219.7 767.5,207.1 773.5,201.9 779.5,199.5 785.5,196.7 791.5,201.3 797.5,216.3 803.5,225.5 809.5,231.9 815.5,237.5 821.5,242.9 827.5,241.9 833.5,242.7 839.5,243.9 845.5,237.9 851.5,226.7 857.5,214.9 863.5,198.1 869.5,176.9 875.5,159.5 881.5,151.7 887.5,140.5 893.5,135.9 899.5,137.7 905.5,148.1 911.5,157.5 917.5,167.7 923.5,183.3 929.5,196.9 935.5,203.3 941.5,207.3 947.5,211.7 953.5,211.5 959.5,204.1 965.5,196.5" fill="none" stroke="#965fc4" stroke-width="1" stroke-linejoin="round" stroke-opacity="0.75" shape-rendering="geometricPrecision"/>
<rect x="131" y="285" width="1" height="104" fill="#589065"/>
<rect x="129" y="355" width="5" height="34" fill="#589065"/>
<rect x="137" y="354" width="1" height="23" fill="#ae4e54"/>
<rect x="135" y="356" width="5" height="12" fill="#ae4e54"/>
<rect x="143" y="362" width="1" height="15" fill="#ae4e54"/>
<rect x="141" y="367" width="5" height="1" fill="#ae4e54"/>
<rect x="149" y="366" width="1" height="10" fill="#ae4e54"/>
<rect x="147" y="368" width="5" height="8" fill="#ae4e54"/>
<rect x="155" y="369" width="1" height="15" fill="#ae4e54"/>
<rect x="153" y="375" width="5" height="8" fill="#ae4e54"/>
<rect x="161" y="381" width="1" height="7" fill="#589065"/>
<rect x="159" y="382" width="5" height="1" fill="#589065"/>
<rect x="167" y="373" width="1" height="10" fill="#589065"/>
<rect x="165" y="375" width="5" height="8" fill="#589065"/>
<rect x="173" y="367" width="1" height="11" fill="#589065"/>
<rect x="171" y="370" width="5" height="6" fill="#589065"/>
<rect x="179" y="363" width="1" height="11" fill="#589065"/>
<rect x="177" y="366" width="5" height="5" fill="#589065"/>
<rect x="185" y="362" width="1" height="7" fill="#ae4e54"/>
<rect x="183" y="366" width="5" height="3" fill="#ae4e54"/>
<rect x="191" y="362" width="1" height="9" fill="#589065"/>
<rect x="189" y="363" width="5" height="6" fill="#589065"/>
<rect x="197" y="362" width="1" height="3" fill="#ae4e54"/>
<rect x="195" y="363" width="5" height="1" fill="#ae4e54"/>
<rect x="203" y="341" width="1" height="23" fill="#589065"/>
<rect x="201" y="342" width="5" height="22" fill="#589065"/>
<rect x="209" y="300" width="1" height="45" fill="#589065"/>
<rect x="207" y="310" width="5" height="33" fill="#589065"/>
<rect x="215" y="293" width="1" height="28" fill="#ae4e54"/>
<rect x="213" y="310" width="5" height="8" fill="#ae4e54"/>
<rect x="221" y="310" width="1" height="16" fill="#589065"/>
<rect x="219" y="316" width="5" height="2" fill="#589065"/>
<rect x="227" y="304" width="1" height="13" fill="#589065"/>
<rect x="225" y="313" width="5" height="4" fill="#589065"/>
<rect x="233" y="308" width="1" height="16" fill="#ae4e54"/>
<rect x="231" y="313" width="5" height="6" fill="#ae4e54"/>
<rect x="239" y="306" width="1" height="15" fill="#589065"/>
<rect x="237" y="309" width="5" height="10" fill="#589065"/>
<rect x="245" y="301" width="1" height="12" fill="#589065"/>
<rect x="243" y="307" width="5" height="3" fill="#589065"/>
<rect x="251" y="303" width="1" height="20" fill="#ae4e54"/>
<rect x="249" y="307" width="5" height="14" fill="#ae4e54"/>
<rect x="257" y="312" width="1" height="21" fill="#ae4e54"/>
<rect x="255" y="320" width="5" height="9" fill="#ae4e54"/>
<rect x="263" y="321" width="1" height="17" fill="#589065"/>
<rect x="261" y="323" width="5" height="6" fill="#589065"/>
<rect x="269" y="317" width="1" height="12" fill="#ae4e54"/>
<rect x="267" y="323" width="5" height="3" fill="#ae4e54"/>
<rect x="275" y="321" width="1" height="10" fill="#ae4e54"/>
<rect x="273" y="325" width="5" height="5" fill="#ae4e54"/>
<rect x="281" y="320" width="1" height="10" fill="#589065"/>
<rect x="279" y="322" width="5" height="8" fill="#589065"/>
<rect x="287" y="303" width="1" height="21" fill="#589065"/>
<rect x="285" y="310" width="5" height="13" fill="#589065"/>
<rect x="293" y="305" width="1" height="19" fill="#ae4e54"/>
<rect x="291" y="310" width="5" height="13" fill="#ae4e54"/>
<rect x="299" y="321" width="1" height="13" fill="#ae4e54"/>
<rect x="297" y="323" width="5" height="5" fill="#ae4e54"/>
<rect x="305" y="320" width="1" height="15" fill="#ae4e54"/>
<rect x="303" y="327" width="5" height="3" fill="#ae4e54"/>
<rect x="311" y="326" width="1" height="6" fill="#589065"/>
<rect x="309" y="329" width="5" height="1" fill="#589065"/>
<rect x="317" y="327" width="1" height="5" fill="#ae4e54"/>
<rect x="315" y="329" width="5" height="1" fill="#ae4e54"/>
<rect x="323" y="323" width="1" height="8" fill="#589065"/>
<rect x="321" y="325" width="5" height="6" fill="#589065"/>
<rect x="329" y="322" width="1" height="14" fill="#ae4e54"/>
<rect x="327" y="325" width="5" height="9" fill="#ae4e54"/>
<rect x="335" y="331" width="1" height="13" fill="#ae4e54"/>
<rect x="333" y="333" width="5" height="10" fill="#ae4e54"/>
<rect x="341" y="341" width="1" height="21" fill="#ae4e54"/>
<rect x="339" y="342" width="5" height="19" fill="#ae4e54"/>
<rect x="347" y="359" width="1" height="14" fill="#ae4e54"/>
<rect x="345" y="360" width="5" height="5" fill="#ae4e54"/>
<rect x="353" y="356" width="1" height="12" fill="#589065"/>
<rect x="351" y="359" width="5" height="6" fill="#589065"/>
<rect x="359" y="357" width="1" height="10" fill="#ae4e54"/>
<rect x="357" y="359" width="5" height="2" fill="#ae4e54"/>
<rect x="365" y="350" width="1" height="12" fill="#ae4e54"/>
<rect x="363" y="360" width="5" height="2" fill="#ae4e54"/>
<rect x="371" y="357" width="1" height="6" fill="#589065"/>
<rect x="369" y="359" width="5" height="3" fill="#589065"/>
<rect x="377" y="357" width="1" height="10" fill="#ae4e54"/>
<rect x="375" y="359" width="5" height="7" fill="#ae4e54"/>
<rect x="383" y="365" width="1" height="10" fill="#ae4e54"/>
<rect x="381" y="365" width="5" height="5" fill="#ae4e54"/>
<rect x="389" y="363" width="1" height="8" fill="#589065"/>
<rect x="387" y="364" width="5" height="6" fill="#589065"/>
<rect x="395" y="363" width="1" height="9" fill="#ae4e54"/>
<rect x="393" y="364" width="5" height="8" fill="#ae4e54"/>
<rect x="401" y="369" width="1" height="13" fill="#ae4e54"/>
<rect x="399" y="371" width="5" height="10" fill="#ae4e54"/>
<rect x="407" y="368" width="1" height="14" fill="#589065"/>
<rect x="405" y="370" width="5" height="12" fill="#589065"/>
<rect x="413" y="367" width="1" height="6" fill="#589065"/>
<rect x="411" y="369" width="5" height="2" fill="#589065"/>
<rect x="419" y="365" width="1" height="5" fill="#589065"/>
<rect x="417" y="365" width="5" height="5" fill="#589065"/>
<rect x="425" y="365" width="1" height="8" fill="#ae4e54"/>
<rect x="423" y="366" width="5" height="6" fill="#ae4e54"/>
<rect x="431" y="368" width="1" height="7" fill="#ae4e54"/>
<rect x="429" y="371" width="5" height="1" fill="#ae4e54"/>
<rect x="437" y="349" width="1" height="24" fill="#589065"/>
<rect x="435" y="364" width="5" height="9" fill="#589065"/>
<rect x="443" y="358" width="1" height="11" fill="#ae4e54"/>
<rect x="441" y="364" width="5" height="4" fill="#ae4e54"/>
<rect x="449" y="361" width="1" height="9" fill="#ae4e54"/>
<rect x="447" y="367" width="5" height="3" fill="#ae4e54"/>
<rect x="455" y="364" width="1" height="7" fill="#589065"/>
<rect x="453" y="366" width="5" height="4" fill="#589065"/>
<rect x="461" y="357" width="1" height="11" fill="#589065"/>
<rect x="459" y="363" width="5" height="4" fill="#589065"/>
<rect x="467" y="357" width="1" height="7" fill="#589065"/>
<rect x="465" y="358" width="5" height="6" fill="#589065"/>
<rect x="473" y="356" width="1" height="11" fill="#ae4e54"/>
<rect x="471" y="358" width="5" height="2" fill="#ae4e54"/>
<rect x="479" y="351" width="1" height="11" fill="#589065"/>
<rect x="477" y="353" width="5" height="7" fill="#589065"/>
<rect x="485" y="352" width="1" height="10" fill="#ae4e54"/>
<rect x="483" y="353" width="5" height="7" fill="#ae4e54"/>
<rect x="491" y="355" width="1" height="6" fill="#589065"/>
<rect x="489" y="356" width="5" height="4" fill="#589065"/>
<rect x="497" y="354" width="1" height="3" fill="#589065"/>
<rect x="495" y="355" width="5" height="2" fill="#589065"/>
<rect x="503" y="354" width="1" height="7" fill="#ae4e54"/>
<rect x="501" y="355" width="5" height="6" fill="#ae4e54"/>
<rect x="509" y="358" width="1" height="4" fill="#ae4e54"/>
<rect x="507" y="359" width="5" height="2" fill="#ae4e54"/>
<rect x="515" y="358" width="1" height="6" fill="#ae4e54"/>
<rect x="513" y="360" width="5" height="4" fill="#ae4e54"/>
<rect x="521" y="358" width="1" height="7" fill="#589065"/>
<rect x="519" y="358" width="5" height="6" fill="#589065"/>
<rect x="527" y="354" width="1" height="4" fill="#589065"/>
<rect x="525" y="354" width="5" height="4" fill="#589065"/>
<rect x="533" y="353" width="1" height="5" fill="#ae4e54"/>
<rect x="531" y="354" width="5" height="4" fill="#ae4e54"/>
<rect x="539" y="355" width="1" height="3" fill="#589065"/>
<rect x="537" y="357" width="5" height="1" fill="#589065"/>
<rect x="545" y="353" width="1" height="5" fill="#589065"/>
<rect x="543" y="354" width="5" height="4" fill="#589065"/>
<rect x="551" y="345" width="1" height="11" fill="#589065"/>
<rect x="549" y="351" width="5" height="4" fill="#589065"/>
<rect x="557" y="337" width="1" height="15" fill="#589065"/>
<rect x="555" y="343" width="5" height="9" fill="#589065"/>
<rect x="563" y="341" width="1" height="10" fill="#ae4e54"/>
<rect x="561" y="343" width="5" height="7" fill="#ae4e54"/>
<rect x="569" y="345" width="1" height="5" fill="#589065"/>
<rect x="567" y="348" width="5" height="2" fill="#589065"/>
<rect x="575" y="342" width="1" height="12" fill="#ae4e54"/>
<rect x="573" y="348" width="5" height="5" fill="#ae4e54"/>
<rect x="581" y="349" width="1" height="4" fill="#589065"/>
<rect x="579" y="351" width="5" height="2" fill="#589065"/>
<rect x="587" y="349" width="1" height="4" fill="#589065"/>
<rect x="585" y="350" width="5" height="2" fill="#589065"/>
<rect x="593" y="344" width="1" height="7" fill="#589065"/>
<rect x="591" y="345" width="5" height="6" fill="#589065"/>
<rect x="599" y="342" width="1" height="6" fill="#ae4e54"/>
<rect x="597" y="345" width="5" height="3" fill="#ae4e54"/>
<rect x="605" y="344" width="1" height="6" fill="#ae4e54"/>
<rect x="603" y="346" width="5" height="2" fill="#ae4e54"/>
<rect x="611" y="332" width="1" height="18" fill="#589065"/>
<rect x="609" y="335" width="5" height="13" fill="#589065"/>
<rect x="617" y="327" width="1" height="13" fill="#589065"/>
<rect x="615" y="330" width="5" height="6" fill="#589065"/>
<rect x="623" y="322" width="1" height="10" fill="#589065"/>
<rect x="621" y="324" width="5" height="7" fill="#589065"/>
<rect x="629" y="322" width="1" height="22" fill="#ae4e54"/>
<rect x="627" y="324" width="5" height="17" fill="#ae4e54"/>
<rect x="635" y="333" width="1" height="10" fill="#589065"/>
<rect x="633" y="334" width="5" height="7" fill="#589065"/>
<rect x="641" y="323" width="1" height="12" fill="#589065"/>
<rect x="639" y="326" width="5" height="9" fill="#589065"/>
<rect x="647" y="317" width="1" height="13" fill="#589065"/>
<rect x="645" y="321" width="5" height="6" fill="#589065"/>
<rect x="653" y="316" width="1" height="9" fill="#589065"/>
<rect x="651" y="319" width="5" height="3" fill="#589065"/>
<rect x="659" y="301" width="1" height="22" fill="#589065"/>
<rect x="657" y="303" width="5" height="17" fill="#589065"/>
<rect x="665" y="290" width="1" height="23" fill="#ae4e54"/>
<rect x="663" y="303" width="5" height="3" fill="#ae4e54"/>
<rect x="671" y="296" width="1" height="11" fill="#589065"/>
<rect x="669" y="297" width="5" height="8" fill="#589065"/>
<rect x="677" y="293" width="1" height="11" fill="#589065"/>
<rect x="675" y="296" width="5" height="2" fill="#589065"/>
<rect x="683" y="295" width="1" height="13" fill="#ae4e54"/>
<rect x="681" y="296" width="5" height="7" fill="#ae4e54"/>
<rect x="689" y="290" width="1" height="13" fill="#589065"/>
<rect x="687" y="296" width="5" height="7" fill="#589065"/>
<rect x="695" y="296" width="1" height="13" fill="#ae4e54"/>
<rect x="693" y="296" width="5" height="11" fill="#ae4e54"/>
<rect x="701" y="297" width="1" height="13" fill="#589065"/>
<rect x="699" y="299" width="5" height="8" fill="#589065"/>
<rect x="707" y="293" width="1" height="8" fill="#589065"/>
<rect x="705" y="297" width="5" height="3" fill="#589065"/>
<rect x="713" y="264" width="1" height="34" fill="#589065"/>
<rect x="711" y="273" width="5" height="25" fill="#589065"/>
<rect x="719" y="231" width="1" height="44" fill="#589065"/>
<rect x="717" y="237" width="5" height="37" fill="#589065"/>
<rect x="725" y="217" width="1" height="48" fill="#ae4e54"/>
<rect x="723" y="237" width="5" height="8" fill="#ae4e54"/>
<rect x="731" y="230" width="1" height="35" fill="#ae4e54"/>
<rect x="729" y="243" width="5" height="16" fill="#ae4e54"/>
<rect x="737" y="240" width="1" height="29" fill="#589065"/>
<rect x="735" y="242" width="5" height="17" fill="#589065"/>
<rect x="743" y="218" width="1" height="33" fill="#589065"/>
<rect x="741" y="220" width="5" height="23" fill="#589065"/>
<rect x="749" y="200" width="1" height="25" fill="#589065"/>
<rect x="747" y="217" width="5" height="4" fill="#589065"/>
<rect x="755" y="208" width="1" height="31" fill="#ae4e54"/>
<rect x="753" y="217" width="5" height="8" fill="#ae4e54"/>
<rect x="761" y="192" width="1" height="34" fill="#589065"/>
<rect x="759" y="193" width="5" height="32" fill="#589065"/>
<rect x="767" y="167" width="1" height="45" fill="#589065"/>
<rect x="765" y="179" width="5" height="15" fill="#589065"/>
<rect x="773" y="145" width="1" height="53" fill="#ae4e54"/>
<rect x="771" y="179" width="5" height="16" fill="#ae4e54"/>
<rect x="779" y="180" width="1" height="53" fill="#ae4e54"/>
<rect x="777" y="194" width="5" height="12" fill="#ae4e54"/>
<rect x="785" y="181" width="1" height="41" fill="#ae4e54"/>
<rect x="783" y="206" width="5" height="5" fill="#ae4e54"/>
<rect x="791" y="204" width="1" height="23" fill="#ae4e54"/>
<rect x="789" y="210" width="5" height="7" fill="#ae4e54"/>
<rect x="797" y="214" width="1" height="43" fill="#ae4e54"/>
<rect x="795" y="215" width="5" height="40" fill="#ae4e54"/>
<rect x="803" y="237" width="1" height="28" fill="#589065"/>
<rect x="801" y="240" width="5" height="15" fill="#589065"/>
<rect x="809" y="231" width="1" height="13" fill="#589065"/>
<rect x="807" y="237" width="5" height="4" fill="#589065"/>
<rect x="815" y="235" width="1" height="7" fill="#ae4e54"/>
<rect x="813" y="237" width="5" height="2" fill="#ae4e54"/>
<rect x="821" y="237" width="1" height="8" fill="#ae4e54"/>
<rect x="819" y="238" width="5" height="6" fill="#ae4e54"/>
<rect x="827" y="236" width="1" height="20" fill="#ae4e54"/>
<rect x="825" y="242" width="5" height="8" fill="#ae4e54"/>
<rect x="833" y="242" width="1" height="22" fill="#589065"/>
<rect x="831" y="244" width="5" height="6" fill="#589065"/>
<rect x="839" y="231" width="1" height="16" fill="#589065"/>
<rect x="837" y="243" width="5" height="2" fill="#589065"/>
<rect x="845" y="203" width="1" height="43" fill="#589065"/>
<rect x="843" y="208" width="5" height="36" fill="#589065"/>
<rect x="851" y="181" width="1" height="33" fill="#589065"/>
<rect x="849" y="187" width="5" height="22" fill="#589065"/>
<rect x="857" y="182" width="1" height="17" fill="#ae4e54"/>
<rect x="855" y="187" width="5" height="4" fill="#ae4e54"/>
<rect x="863" y="158" width="1" height="39" fill="#589065"/>
<rect x="861" y="160" width="5" height="31" fill="#589065"/>
<rect x="869" y="133" width="1" height="39" fill="#589065"/>
<rect x="867" y="137" width="5" height="24" fill="#589065"/>
<rect x="875" y="113" width="1" height="35" fill="#589065"/>
<rect x="873" y="121" width="5" height="17" fill="#589065"/>
<rect x="881" y="111" width="1" height="47" fill="#ae4e54"/>
<rect x="879" y="122" width="5" height="27" fill="#ae4e54"/>
<rect x="887" y="126" width="1" height="43" fill="#589065"/>
<rect x="885" y="134" width="5" height="15" fill="#589065"/>
<rect x="893" y="122" width="1" height="22" fill="#ae4e54"/>
<rect x="891" y="134" width="5" height="4" fill="#ae4e54"/>
<rect x="899" y="130" width="1" height="24" fill="#ae4e54"/>
<rect x="897" y="137" width="5" height="10" fill="#ae4e54"/>
<rect x="905" y="138" width="1" height="37" fill="#ae4e54"/>
<rect x="903" y="145" width="5" height="29" fill="#ae4e54"/>
<rect x="911" y="172" width="1" height="27" fill="#ae4e54"/>
<rect x="909" y="173" width="5" height="23" fill="#ae4e54"/>
<rect x="917" y="173" width="1" height="23" fill="#589065"/>
<rect x="915" y="185" width="5" height="11" fill="#589065"/>
<rect x="923" y="184" width="1" height="32" fill="#ae4e54"/>
<rect x="921" y="185" width="5" height="31" fill="#ae4e54"/>
<rect x="929" y="201" width="1" height="26" fill="#589065"/>
<rect x="927" y="214" width="5" height="2" fill="#589065"/>
<rect x="935" y="195" width="1" height="20" fill="#589065"/>
<rect x="933" y="205" width="5" height="10" fill="#589065"/>
<rect x="941" y="202" width="1" height="14" fill="#ae4e54"/>
<rect x="939" y="205" width="5" height="11" fill="#ae4e54"/>
<rect x="947" y="204" width="1" height="13" fill="#589065"/>
<rect x="945" y="207" width="5" height="9" fill="#589065"/>
<rect x="953" y="204" width="1" height="14" fill="#ae4e54"/>
<rect x="951" y="207" width="5" height="8" fill="#ae4e54"/>
<rect x="959" y="174" width="1" height="41" fill="#589065"/>
<rect x="957" y="177" width="5" height="38" fill="#589065"/>
<rect x="965" y="159" width="1" height="23" fill="#589065"/>
<rect x="963" y="167" width="5" height="11" fill="#589065"/>
<line x1="10" y1="167.5" x2="999" y2="167.5" stroke="#589065" stroke-width="1" stroke-dasharray="2,1" shape-rendering="crispEdges"/>
<rect x="999" y="95" width="1" height="415" fill="#6b7195"/>
<rect x="10" y="412" width="1034" height="1" fill="#6b7195"/>
<rect x="10" y="509" width="990" height="1" fill="#6b7195"/>
<rect x="10" y="413" width="1034" height="3" fill="#ffffff" fill-opacity="0.025"/>
<rect x="1000" y="116" width="3" height="1" fill="#6b7195"/>
<rect x="1000" y="172" width="3" height="1" fill="#6b7195"/>
<rect x="1000" y="228" width="3" height="1" fill="#6b7195"/>
<rect x="1000" y="284" width="3" height="1" fill="#6b7195"/>
<rect x="1000" y="339" width="3" height="1" fill="#6b7195"/>
<rect x="1000" y="395" width="3" height="1" fill="#6b7195"/>
<rect x="1000" y="414" width="3" height="1" fill="#6b7195"/>
<rect x="1000" y="458" width="3" height="1" fill="#6b7195"/>
<rect x="1000" y="502" width="3" height="1" fill="#6b7195"/>
<rect x="138" y="510" width="1" height="3" fill="#6b7195"/>
<rect x="216" y="510" width="1" height="3" fill="#6b7195"/>
<rect x="300" y="510" width="1" height="3" fill="#6b7195"/>
<rect x="378" y="510" width="1" height="3" fill="#6b7195"/>
<rect x="486" y="510" width="1" height="3" fill="#6b7195"/>
<rect x="564" y="510" width="1" height="3" fill="#6b7195"/>
<rect x="666" y="510" width="1" height="3" fill="#6b7195"/>
<rect x="744" y="510" width="1" height="3" fill="#6b7195"/>
<rect x="852" y="510" width="1" height="3" fill="#6b7195"/>
<rect x="930" y="510" width="1" height="3" fill="#6b7195"/>
</svg>
<!-- header -->
<svg width="14" height="10" style="left:13px;top:28px" viewBox="0 0 14 10" shape-rendering="geometricPrecision"><polyline points="1.5,2 6.5,7.5 11.5,2" fill="none" stroke="#c7cce6" stroke-width="1.1"/></svg>
<div class="abs h1" id="sym" style="left:34px;letter-spacing:0.25px">HT/USDT</div>
<div class="abs h1" id="px" style="left:138.5px;letter-spacing:0.3px">5.0900</div>
<div class="abs h2" id="usd" style="left:225px;">≈ 5.09 USD</div>
<div class="abs h2" id="chg" style="left:318.5px;letter-spacing:-0.2px">CHANGE <span style="color:#589065;letter-spacing:0.1px">+3.49%</span></div>
<div class="abs h2" id="hi" style="left:452px;">HIGH 5.2300</div>
<div class="abs h2" id="lo" style="left:555.5px;">LOW 4.8175</div>
<div class="abs h2" id="vol" style="left:655.5px;">24H VOL 19546551 HT</div>
<!-- logo -->
<svg width="26" height="34" style="left:890px;top:14px" viewBox="0 0 26 34" shape-rendering="geometricPrecision">
<path d="M12.6,3.8 C11.5,9 4,14 3.8,21 C3.7,25.5 6.5,29.5 10.8,30.8 C8.3,27 8.6,23.5 10.6,20 C13,16 17.5,11.5 12.6,3.8 Z" fill="#3a3d56"/>
<path d="M18.4,14.8 C20,17 22.2,19.5 22.2,23 C22.2,27 19.5,30 15.4,30.8 C13.5,28.5 12.8,25.5 14,22 C15,19 18,17.5 18.4,14.8 Z" fill="#3a3d56"/>
</svg>
<div class="abs" id="logo" style="left:916.5px;top:18.5px;font-size:28px;line-height:32px;font-weight:bold;color:#3a3d56;transform:scaleX(0.92);transform-origin:0 0;">Huobi Pro</div>
<!-- toolbar -->
<div class="tb" style="left:2.5px">Line</div>
<div class="tb" style="left:55.0px">1min</div>
<div class="tb" style="left:108.5px">5min</div>
<div class="tb" style="left:165.5px">15min</div>
<div class="tb" style="left:225.5px">30min</div>
<div class="tb" style="left:284.5px">1hour</div>
<div class="tb" style="left:342.5px">4hour</div>
<div class="tb" style="left:451.0px">5day</div>
<div class="tb" style="left:509.5px">1week</div>
<div class="tb" style="left:568.0px">1mon</div>
<div class="abs" style="left:404px;top:60px;width:48px;height:28px;background:#4e5b85;"></div>
<div class="abs" id="day" style="left:404px;top:65px;width:48px;text-align:center;font-size:11px;line-height:16px;color:#fff;-webkit-text-stroke:0.35px #fff;">1day</div>
<!-- gear -->
<svg width="18" height="18" style="left:638.5px;top:65.5px" viewBox="-9 -9 18 18" shape-rendering="geometricPrecision">
<g fill="#5a699b">
<circle r="6.3"/>
<rect x="-1.7" y="-8.6" width="3.4" height="17.2"/>
<rect x="-1.7" y="-8.6" width="3.4" height="17.2" transform="rotate(45)"/>
<rect x="-1.7" y="-8.6" width="3.4" height="17.2" transform="rotate(90)"/>
<rect x="-1.7" y="-8.6" width="3.4" height="17.2" transform="rotate(135)"/>
</g>
<circle r="3.2" fill="#181b2a"/>
</svg>
<!-- indicator icon -->
<svg width="20" height="18" style="left:683px;top:66px" viewBox="0 0 20 18" shape-rendering="geometricPrecision">
<g fill="#5a699b">
<rect x="1" y="11.6" width="2" height="4.4"/>
<rect x="4" y="9.9" width="2" height="6.1"/>
<rect x="7" y="11.6" width="2" height="4.4"/>
<rect x="10" y="7.8" width="2" height="8.2"/>
<rect x="13" y="11" width="2" height="5"/>
<rect x="16" y="6" width="2" height="10"/>
<circle cx="1.8" cy="8" r="1"/><circle cx="17.1" cy="1.7" r="1"/>
</g>
<polyline points="1.8,8 4.9,5.2 7.9,8 10.9,3.6 13.9,6.9 17.1,1.7" fill="none" stroke="#5a699b" stroke-width="1.2"/>
</svg>
<!-- fullscreen -->
<svg width="18" height="18" style="left:1020px;top:65px" viewBox="0 0 18 18" shape-rendering="geometricPrecision">
<g fill="#5a699b">
<path d="M0,0 H6 L3.9,2.1 L7,5.2 L5.2,7 L2.1,3.9 L0,6 Z"/>
<path d="M18,0 V6 L15.9,3.9 L12.8,7 L11,5.2 L14.1,2.1 L12,0 Z"/>
<path d="M0,18 V12 L2.1,14.1 L5.2,11 L7,12.8 L3.9,15.9 L6,18 Z"/>
<path d="M18,18 H12 L14.1,15.9 L11,12.8 L12.8,11 L15.9,14.1 L18,12 Z"/>
</g>
</svg>
<!-- legend -->
<svg width="14" height="14" style="left:16px;top:107px" viewBox="0 0 14 14" shape-rendering="geometricPrecision">
<rect x="0.5" y="0.5" width="12" height="12" rx="1.5" fill="none" stroke="#7d7a76" stroke-width="1"/>
<path d="M1,6.5 H12 M6.5,1 V12" stroke="#8a8680" stroke-width="1"/>
</svg>
<div class="lg" id="lgO" style="left:36px;color:#59648f;font-size:13.5px;letter-spacing:0;top:105px">O</div>
<div class="lg" id="lgOv" style="left:48px;color:#589065">4.9180</div>
<div class="lg" id="lgH" style="left:102.5px;color:#59648f;font-size:13.5px;letter-spacing:0;top:105px">H</div>
<div class="lg" id="lgHv" style="left:113.5px;color:#589065">5.2300</div>
<div class="lg" id="lgL" style="left:167.5px;color:#59648f;font-size:13.5px;letter-spacing:0;top:105px">L</div>
<div class="lg" id="lgLv" style="left:176px;color:#589065">4.8175</div>
<div class="lg" id="lgC" style="left:230px;color:#59648f;font-size:13.5px;letter-spacing:0;top:105px">C</div>
<div class="lg" id="lgCv" style="left:241px;color:#589065">5.0900</div>
<!-- left arrow widget -->
<svg width="6" height="16" style="left:4px;top:288px" viewBox="0 0 6 16" shape-rendering="geometricPrecision"><path d="M1,1.5 L2.2,0.3 L4.8,7.5 L2.2,14.7 L1,13.5 Z" fill="#5d70a3"/></svg>
<!-- tradingview -->
<svg width="28" height="18" style="left:22px;top:380px" viewBox="0 0 28 18" shape-rendering="geometricPrecision">
<path d="M4.8,16.2 C2.8,16 1.8,14 1.9,12 C2,9.5 3.8,7.2 6,6.9 C6.6,3.5 9,1.4 12,1.4 C14.3,1.4 16.3,2.4 17.6,4.2 C19.5,3.9 21.5,5 22.5,7.6 C24.3,8.5 25.2,10.3 25.1,12.3 C25,14.8 23.8,16.2 22.3,16.2 Z" fill="#3bb3e4" stroke="#0c0e18" stroke-width="1.3"/>
<polyline points="4,13.5 10.3,7.4 15.7,14.2 21.2,7.2" fill="none" stroke="#0c0e18" stroke-width="1.9"/>
</svg>
<div class="abs" id="tv" style="left:54.5px;top:382.5px;font-size:14px;line-height:18px;color:#3bb3e4;text-shadow:0 0 2px #131722,1px 1px 0 #131722,-1px -1px 0 #131722,1px -1px 0 #131722,-1px 1px 0 #131722;">charts by TradingView</div>
<!-- axis labels -->
<div class="ax" style="left:1006px;top:110px">6.0000</div>
<div class="ax" style="left:1006px;top:166px">5.0000</div>
<div class="ax" style="left:1006px;top:222px">4.0000</div>
<div class="ax" style="left:1006px;top:278px">3.0000</div>
<div class="ax" style="left:1006px;top:333px">2.0000</div>
<div class="ax" style="left:1006px;top:389px">1.0000</div>
<div class="ax" style="left:1006px;top:452px">40M</div>
<div class="ax" style="left:1006px;top:496px">0</div>
<div class="ax" style="left:1006px;top:413px;height:7px;overflow:hidden"><span style="position:relative;top:-5px;display:block">80M</span></div>
<div class="ax tx" style="left:108px;top:513.5px">2</div>
<div class="ax tx" style="left:186px;top:513.5px">15</div>
<div class="ax tx" style="left:270px;top:513.5px;font-weight:bold">Mar</div>
<div class="ax tx" style="left:348px;top:513.5px">14</div>
<div class="ax tx" style="left:456px;top:513.5px;font-weight:bold">Apr</div>
<div class="ax tx" style="left:534px;top:513.5px">14</div>
<div class="ax tx" style="left:636px;top:513.5px;font-weight:bold">May</div>
<div class="ax tx" style="left:714px;top:513.5px">14</div>
<div class="ax tx" style="left:822px;top:513.5px;font-weight:bold">Jun</div>
<div class="ax tx" style="left:900px;top:513.5px">14</div>
<!-- price label -->
<div class="abs" style="left:999px;top:160px;width:45px;height:16px;background:#589065;"></div>
<div class="abs" style="left:1000px;top:167px;width:3px;height:1px;background:#fff"></div>
<div class="abs" id="pl" style="left:1006px;top:161px;font-size:11px;line-height:14px;font-weight:bold;color:#fff;">5.0900</div>
</div>
</body></html>
